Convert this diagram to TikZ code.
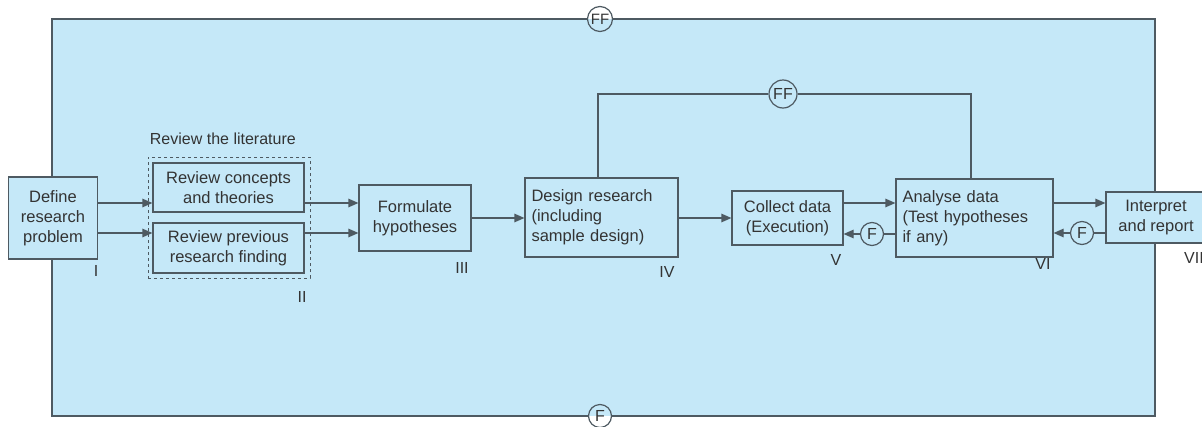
\documentclass[tikz,border=0pt]{standalone}
\usepackage{fontspec}
\setmainfont{Liberation Sans}
\usetikzlibrary{arrows.meta}
\definecolor{bg}{HTML}{C5E8F8}
\definecolor{ln}{HTML}{4E5A62}
\definecolor{tx}{HTML}{333333}
\begin{document}
\begin{tikzpicture}[x=1pt,y=-1pt,line width=1.2pt,
    box/.style={draw=ln,fill=bg,text=tx,inner sep=2pt,align=center,font=\fontsize{16.5}{20}\selectfont},
    arr/.style={draw=ln,-{Triangle[length=10pt,width=8.5pt]}},
    fb/.style={circle,draw=ln,text=tx,inner sep=0pt,minimum size=23pt,font=\fontsize{16}{16}\selectfont},
    lab/.style={text=tx,font=\fontsize{16}{16}\selectfont}]
        \clip (0,0) rectangle (1202,426);
        \fill[white] (0,0) rectangle (1202,426);
        % outer frame
        \coordinate (NW) at (52,19);
        \coordinate (NE) at (1155,19);
        \coordinate (SE) at (1155,416);
        \coordinate (SW) at (52,416);
        \fill[bg] (NW) rectangle (SE);
        \node[fb,minimum size=25pt,font=\fontsize{15}{15}\selectfont] (ffa) at (600,19) {FF};
        \node[fb] (fa) at (600,416) {F};
        \draw[ln] (ffa.east)--(NE)--(SE)--(fa.east) (fa.west)--(SW)--(NW)--(ffa.west);
        % rows of the arrows
        \coordinate (r1) at (0,203);
        \coordinate (r2) at (0,233);
        % steps
        \node[box,minimum width=89pt,minimum height=82pt] (def) at (53,218) {Define\\research\\problem};
        \node[draw=ln,dashed,line width=1pt,minimum width=162pt,minimum height=121pt] (lit) at (229,217.5) {};
        \node[lab,anchor=west] (litl) at (146,139) {Review the literature};
        \node[box,minimum width=151pt,minimum height=49pt] (con) at (228.5,187.5) {Review concepts\\and theories};
        \node[box,minimum width=151pt,minimum height=50pt] (pre) at (228.5,248) {Review previous\\research finding};
        \node[box,minimum width=112pt,minimum height=66pt] (frm) at (415,218) {Formulate\\hypotheses};
        \node[box,minimum width=153pt,minimum height=79pt,align=left,text width=140pt] (des) at (601.5,217.5) {Design research\\(including\\sample design)};
        \node[box,minimum width=111pt,minimum height=54pt] (col) at (787.5,218) {Collect data\\(Execution)};
        \node[box,minimum width=157pt,minimum height=78pt,align=left,text width=144pt] (ana) at (974.5,218) {Analyse data\\(Test hypotheses\\if any)};
        \node[box,minimum width=100pt,minimum height=51pt] (int) at (1156,217.5) {Interpret\\and report};
        % numbers
        \node[lab] (n1) at (96,271) {I};
        \node[lab] (n2) at (302,297) {II};
        \node[lab] (n3) at (462,268) {III};
        \node[lab] (n4) at (667,272) {IV};
        \node[lab] (n5) at (836,260) {V};
        \node[lab] (n6) at (1043,264) {VI};
        \node[lab] (n7) at (1194,258) {VII};
        % flow
        \draw[arr] (def.east |- r1)--(con.west |- r1);
        \draw[arr] (def.east |- r2)--(pre.west |- r2);
        \draw[arr] (con.east |- r1)--(frm.west |- r1);
        \draw[arr] (pre.east |- r2)--(frm.west |- r2);
        \draw[arr] (frm.east)--(des.west |- frm.east);
        \draw[arr] (des.east |- col.west)--(col.west);
        \draw[arr] (col.east |- r1)--(ana.west |- r1);
        \draw[arr] (ana.east |- r1)--(int.west |- r1);
        % feedback
        \node[fb] (fb) at (872,234) {F};
        \node[fb] (fc) at (1082,233) {F};
        \draw[ln] (ana.west |- fb)--(fb);
        \draw[arr] (fb)--(col.east |- fb);
        \draw[ln] (int.west |- fc)--(fc);
        \draw[arr] (fc)--(ana.east |- fc);
        \node[fb,minimum size=28pt] (ffb) at (783,94) {FF};
        \draw[ln] ([xshift=-3.5pt]des.north) |- (ffb.west);
        \draw[ln] (ffb.east) -| ([xshift=-3.5pt]ana.north);
    \end{tikzpicture}
\end{document}
